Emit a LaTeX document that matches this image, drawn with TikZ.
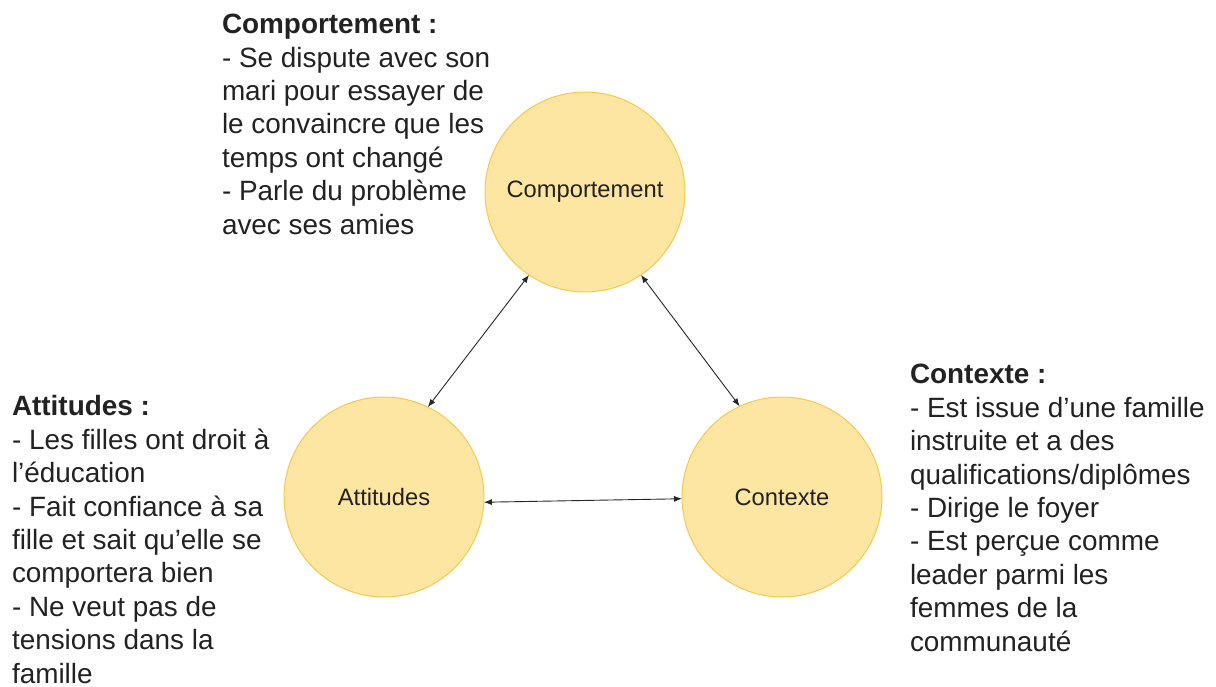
\documentclass[tikz,border=0pt]{standalone}
\usepackage{fontspec}
\setmainfont{Liberation Sans}
\usetikzlibrary{arrows.meta,positioning}

\definecolor{polefill}{HTML}{FDE6A2}
\definecolor{poleline}{HTML}{F5C94E}
\definecolor{notetext}{HTML}{222222}

\begin{document}
\begin{tikzpicture}[x=0.5pt, y=-0.5pt,
  pole/.style={circle, draw=poleline, fill=polefill, line width=0.5pt, minimum size=100pt, inner sep=0pt, outer sep=0pt, text=notetext, font=\fontsize{11.85}{14}\selectfont},
  notes/.style={anchor=base west, align=left, inner sep=0pt, outer sep=0pt, text=notetext, font=\fontsize{13.95}{16.7}\selectfont},
  link/.style={{Latex[length=4pt,width=3pt]}-{Latex[length=4pt,width=3pt]}, draw=black!85, line width=0.45pt}]

  \useasboundingbox (0,0) rectangle (1216,686);

  % circles
  \node[pole] (comp) at (585,192) {Comportement};
  \node[pole] (att) at (384,497) {Attitudes};
  \node[pole, right=99pt of att] (ctx) {Contexte};

  % links
  \draw[link] (comp.236) -- (att.64);
  \draw[link] (comp.304) -- (ctx.115);
  \draw[link] (att.357) -- (ctx.181);

  % notes (placed at the baseline of their last line)
  \node[notes] (compnotes) at (222,234) {\textbf{Comportement :}\\
    - Se dispute avec son\\
    mari pour essayer de\\
    le convaincre que les\\
    temps ont changé\\
    - Parle du problème\\
    avec ses amies};

  \node[notes] (attnotes) at (12,683) {\textbf{Attitudes :}\\
    - Les filles ont droit à\\
    l'éducation\\
    - Fait confiance à sa\\
    fille et sait qu'elle se\\
    comportera bien\\
    - Ne veut pas de\\
    tensions dans la\\
    famille};

  \node[notes] (ctxnotes) at (910,651) {\textbf{Contexte :}\\
    - Est issue d'une famille\\
    instruite et a des\\
    qualifications/diplômes\\
    - Dirige le foyer\\
    - Est perçue comme\\
    leader parmi les\\
    femmes de la\\
    communauté};

\end{tikzpicture}
\end{document}
